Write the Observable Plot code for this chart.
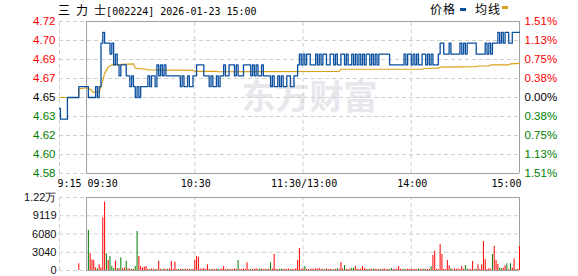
<!DOCTYPE html>
<html><head><meta charset="utf-8">
<script src="https://cdn.jsdelivr.net/npm/d3@7"></script>
<script src="https://cdn.jsdelivr.net/npm/@observablehq/plot@0.6"></script>
<style>
html,body{margin:0;padding:0;background:#fff;}
#c{position:relative;width:578px;height:276px;overflow:hidden;font-family:"Liberation Sans",Arial,sans-serif;}
#c svg{position:absolute;left:0;}
.t{position:absolute;white-space:nowrap;line-height:16px;}
.mono{font-family:"DejaVu Sans Mono",monospace;font-size:10px;color:#000;}
.cjk{font-family:"Noto Sans CJK SC",sans-serif;font-size:12px;}
.sw{display:inline-block;width:6px;height:3px;vertical-align:middle;}
</style></head><body><div id="c"></div>
<script>
// ---- data ----
const stockName = ["三", "力", "士"];
const stockCode = "002224";
const stamp = "2026-01-23 15:00";
const legendLabels = ["价格", "均线"];

const priceTicks = [4.72, 4.7025, 4.685, 4.6675, 4.65, 4.6325, 4.615, 4.5975, 4.58];
const priceTickLabels = ["4.72", "4.70", "4.69", "4.67", "4.65", "4.63", "4.62", "4.60", "4.58"];
const pctTickLabels = ["1.51%", "1.13%", "0.75%", "0.38%", "0.00%", "0.38%", "0.75%", "1.13%", "1.51%"];
const prevClose = 4.65;

const volTicks = [0, 3040, 6080, 9119, 12160];
const volTickLabels = ["0", "3040", "6080", "9119", "1.22万"];

// minutes from 09:30 (pre-market negative, 13:00 continues at 120)
const timeTicks = [-15, 0, 60, 120, 180, 240];
const timeLabels = ["9:15", "09:30", "10:30", "11:30/13:00", "14:00", "15:00"];
const gridTimes = [-15, 60, 120, 180];

// pre-market auction
const preTimes = [-15, -14.5, -10.6, -4.3];
const prePrices = [4.64, 4.63, 4.65, 4.66];
const auctionTime = -4.3;
const auctionVolume = 1110;

// minute prices 09:30 .. 15:00 (241 values)
const prices = [
4.66,4.65,4.65,4.65,4.65,4.66,4.65,4.66,4.70,4.71,
4.70,4.70,4.70,4.69,4.70,4.68,4.69,4.68,4.67,4.68,
4.68,4.68,4.67,4.67,4.66,4.67,4.66,4.65,4.66,4.65,
4.66,4.66,4.66,4.66,4.67,4.66,4.67,4.67,4.66,4.68,
4.67,4.68,4.67,4.68,4.67,4.67,4.67,4.67,4.67,4.67,
4.67,4.67,4.66,4.67,4.66,4.66,4.67,4.66,4.66,4.67,
4.67,4.68,4.68,4.68,4.68,4.67,4.67,4.67,4.66,4.67,
4.66,4.66,4.67,4.66,4.67,4.67,4.68,4.67,4.67,4.68,
4.68,4.68,4.67,4.68,4.67,4.67,4.67,4.68,4.68,4.68,
4.68,4.67,4.68,4.67,4.68,4.67,4.67,4.68,4.67,4.67,
4.67,4.67,4.66,4.67,4.66,4.66,4.67,4.66,4.67,4.66,
4.66,4.67,4.67,4.66,4.66,4.67,4.67,4.68,4.69,4.68,
4.69,4.68,4.69,4.69,4.68,4.68,4.68,4.69,4.68,4.69,
4.68,4.69,4.69,4.68,4.68,4.69,4.69,4.68,4.69,4.68,
4.68,4.69,4.69,4.68,4.69,4.68,4.68,4.69,4.68,4.69,
4.68,4.69,4.68,4.69,4.68,4.69,4.69,4.68,4.69,4.68,
4.69,4.68,4.69,4.69,4.69,4.69,4.69,4.69,4.68,4.68,
4.68,4.68,4.68,4.68,4.68,4.68,4.69,4.68,4.69,4.69,
4.68,4.69,4.68,4.69,4.68,4.68,4.69,4.69,4.68,4.69,
4.68,4.69,4.68,4.68,4.68,4.69,4.70,4.70,4.69,4.69,
4.69,4.70,4.69,4.69,4.69,4.69,4.69,4.70,4.69,4.70,
4.69,4.70,4.70,4.70,4.70,4.70,4.69,4.69,4.69,4.69,
4.69,4.70,4.69,4.70,4.69,4.70,4.70,4.70,4.71,4.70,
4.71,4.70,4.71,4.71,4.70,4.70,4.71,4.71,4.71,4.71,
4.71
];

// average-price line, read at its break points
const avgTimes  = [-15, -4.3, -4.3, 0, 2.5, 3.5, 7, 8, 10, 12, 14, 26, 27, 33, 34, 59, 60, 72, 73, 140, 141, 186, 187, 195, 196, 216, 217, 223, 224, 234, 235, 240];
const avgValues = [4.650, 4.650, 4.658, 4.659, 4.657, 4.655, 4.655, 4.660, 4.672, 4.678, 4.680, 4.681, 4.677, 4.676, 4.6755, 4.675, 4.674, 4.674, 4.6737, 4.674, 4.676, 4.676, 4.6767, 4.677, 4.678, 4.6785, 4.679, 4.679, 4.680, 4.680, 4.681, 4.6815];

// minute volumes 09:31 .. 15:00 (negative = down minute, drawn green)
const volumes = [
-6670,2780,1780,1670,440,-280,940,440,8780,11390,
-2780,1670,-2330,-670,-300,1560,-300,300,-2110,300,
400,-1560,250,250,-200,200,-670,-6500,2330,670,
400,550,670,200,-150,250,200,-200,150,1560,
200,-150,250,150,-200,250,1500,200,1390,150,
-200,150,200,-150,250,150,200,-150,200,1670,
2330,2200,250,200,300,150,940,200,-150,200,
150,200,-200,150,250,670,150,200,-150,200,
150,250,200,-1670,200,150,250,200,1280,150,
-200,150,200,300,150,-250,200,150,200,-150,
200,-1280,250,2670,200,150,-200,-250,150,200,
150,250,-150,200,150,300,1670,3670,200,250,
-670,200,150,200,250,150,300,200,350,150,
200,-150,250,150,200,150,-150,200,-300,200,
1330,250,-830,200,150,250,-350,-350,670,200,
150,250,670,300,200,-150,200,150,-250,200,
150,200,-150,200,250,150,200,-150,-350,200,
150,250,670,200,150,-200,150,200,150,200,
150,200,150,-250,200,150,-250,200,150,200,
-610,2500,3220,200,150,4330,2670,200,150,1670,
780,-300,150,250,200,250,150,670,200,-830,
-250,150,200,1500,150,-200,940,200,940,4830,
1830,150,300,200,-2670,4000,1670,1000,-400,-300,
400,780,-1110,150,-1110,400,1940,-150,200,4000
];

// ---- styling ----
const RED = "#ff0000", GREEN = "#008000", BLUE = "#0a4f9f", GOLD = "#dca11d";
const GRID = "#cfcfcf", FRAME = "#a0a0a0";
const lblFont = "Liberation Sans";
const monoFont = "DejaVu Sans Mono";

const priceData = preTimes.map((t, i) => ({t, p: prePrices[i]}))
  .concat(prices.map((p, i) => ({t: i, p})));
const avgData = avgTimes.map((t, i) => ({t, p: avgValues[i]}));
const ticks = priceTicks.map((v, i) => ({v, label: priceTickLabels[i], pct: pctTickLabels[i],
  color: v > prevClose + 1e-9 ? RED : v < prevClose - 1e-9 ? GREEN : "#000"}));
const volData = volumes.map((v, i) => ({t: i + 1, v: Math.abs(v), c: v >= 0 ? RED : GREEN}));
volData.push({t: auctionTime, v: auctionVolume, c: RED});
const tTicks = timeTicks.map((t, i) => ({t, label: timeLabels[i]}));

const yMin = priceTicks[priceTicks.length - 1], yMax = priceTicks[0];
const timeText = (data, anchor, dx) => Plot.text(data, {x: "t", y: yMin, text: "label",
  textAnchor: anchor, dx, dy: 10, fontSize: 10, fontFamily: monoFont, fill: "#000"});

const chartTop = Plot.plot({
  width: 578, height: 190,
  marginLeft: 59, marginRight: 59, marginTop: 21, marginBottom: 17,
  x: {domain: [-15, 240], axis: null},
  y: {domain: [yMin, yMax], axis: null},
  style: {overflow: "visible", background: "transparent"},
  marks: [
    Plot.text(["东方财富"], {frameAnchor: "middle", dx: 20, dy: 1, fontSize: 34, fontWeight: "bold",
      fill: "#e7e7ec", fontFamily: "Noto Sans CJK SC"}),
    Plot.ruleY(priceTicks, {x1: -15, x2: 240, stroke: GRID, strokeDasharray: "4,3"}),
    Plot.ruleX(gridTimes, {y1: yMin, y2: yMax, stroke: GRID, strokeDasharray: "4,3"}),
    Plot.ruleY([yMin, yMax], {x1: 0, x2: 240, stroke: FRAME}),
    Plot.ruleX([0, 240], {y1: yMin, y2: yMax, stroke: FRAME}),
    Plot.line(avgData, {x: "t", y: "p", stroke: GOLD, strokeWidth: 1.2}),
    Plot.line(priceData, {x: "t", y: "p", curve: "step-after", stroke: BLUE, strokeWidth: 1.3}),
    Plot.text(ticks, {x: -15, y: "v", text: "label", fill: "color", textAnchor: "end", dx: -4,
      fontSize: 11.5, fontFamily: lblFont}),
    Plot.text(ticks, {x: 240, y: "v", text: "pct", fill: "color", textAnchor: "start", dx: 5,
      fontSize: 11.5, fontFamily: lblFont}),
    timeText(tTicks.filter(d => d.t === -15), "start", -2),
    timeText(tTicks.filter(d => d.t === 0), "start", 1),
    timeText(tTicks.filter(d => d.t > 0 && d.t < 240), "middle", 1),
    timeText(tTicks.filter(d => d.t === 240), "end", 2)
  ]
});
chartTop.style.top = "0px";

const vTicks = volTicks.map((v, i) => ({v, label: volTickLabels[i]}));
const vMax = volTicks[volTicks.length - 1];
const chartVol = Plot.plot({
  width: 578, height: 86,
  marginLeft: 59, marginRight: 59, marginTop: 7, marginBottom: 6,
  x: {domain: [-15, 240], axis: null},
  y: {domain: [0, vMax], axis: null},
  color: {type: "identity"},
  style: {overflow: "visible", background: "transparent"},
  marks: [
    Plot.ruleY(volTicks, {x1: -15, x2: 240, stroke: GRID, strokeDasharray: "4,3"}),
    Plot.ruleX(gridTimes, {y1: 0, y2: vMax, stroke: GRID, strokeDasharray: "4,3"}),
    Plot.ruleY([0, vMax], {x1: 0, x2: 240, stroke: FRAME}),
    Plot.ruleX([0, 240], {y1: 0, y2: vMax, stroke: FRAME}),
    Plot.ruleX(volData, {x: "t", y1: 0, y2: "v", stroke: "c", strokeWidth: 1}),
    Plot.text(vTicks, {x: -15, y: "v", text: "label", textAnchor: "end", dx: -3,
      fontSize: 11, fontFamily: lblFont, fill: "#111"})
  ]
});
chartVol.style.top = "190px";

const c = document.getElementById("c");
c.appendChild(chartTop);
c.appendChild(chartVol);

const title = document.createElement("div");
title.className = "t mono";
title.style.left = "58px"; title.style.top = "2px";
title.innerHTML = stockName.map(s => `<span class="cjk">${s}</span>`).join(" ") + `[${stockCode}] ${stamp}`;
c.appendChild(title);

const legend = document.createElement("div");
legend.className = "t";
legend.style.left = "430px"; legend.style.top = "1px";
legend.innerHTML = `<span class="cjk" style="letter-spacing:1px">${legendLabels[0]}</span>` +
  `<span class="sw" style="background:${BLUE};margin:0 9px 0 4px"></span>` +
  `<span class="cjk" style="letter-spacing:1px">${legendLabels[1]}</span>` +
  `<span class="sw" style="background:${GOLD};margin:0 0 0 1px;position:relative;top:-2px"></span>`;
c.appendChild(legend);
</script></body></html>
